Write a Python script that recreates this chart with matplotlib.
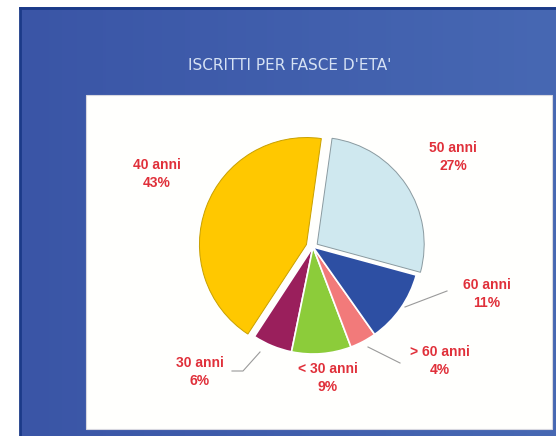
import numpy as np
import matplotlib.pyplot as plt
from matplotlib.patches import Rectangle
from matplotlib.colors import LinearSegmentedColormap

# data (counter-clockwise from the light blue slice)
labels = ['50 anni', '40 anni', '30 anni', '< 30 anni', '> 60 anni', '60 anni']
shares = [27, 43, 6, 9, 4, 11]
colors = ['#cfe8ef', '#ffc800', '#9a1f5c', '#8ccc3a', '#f27a7a', '#2d4fa3']

title = "ISCRITTI PER FASCE D'ETA'"

W, H = 556, 436
fig = plt.figure(figsize=(W / 100, H / 100), dpi=100)
ax = fig.add_axes([0, 0, 1, 1])
fig.patch.set_facecolor('white')

def py(y):
    # pixel row (top = 0) -> axis y
    return H - y

# blue slide background with a light horizontal gradient
grad = np.linspace(0, 1, 256).reshape(1, -1)
cmap = LinearSegmentedColormap.from_list('bg', ['#3a55a6', '#4768b3'])
ax.imshow(grad, cmap=cmap, extent=[20, 556, py(436), py(8)], aspect='auto', zorder=0)
ax.plot([20, 20], [py(436), py(8)], color='#1b3a88', lw=2, zorder=1)
ax.plot([20, 556], [py(8), py(8)], color='#1b3a88', lw=2, zorder=1)

# white plot area
ax.add_patch(Rectangle((86, py(429)), 466, 334, facecolor='#fffffd',
                       edgecolor='#d8d8e0', lw=0.8, zorder=1))

ax.text(290, py(65), title, color='#d6e2f4', fontsize=11, ha='center', va='center',
        family='DejaVu Sans', zorder=3)

# explode is in data units (pixels here)
wedges, _ = ax.pie(shares, colors=colors, explode=[5, 7, 0, 0, 0, 0], startangle=344.8,
                   counterclock=True, center=(313, py(247)), radius=107,
                   wedgeprops=dict(edgecolor='white', linewidth=1.2))
for w in wedges:
    w.set_zorder(2)
wedges[0].set_edgecolor('#8a9aa0')
wedges[0].set_linewidth(0.7)
wedges[1].set_edgecolor('#c8a000')
wedges[1].set_linewidth(0.7)

# label placement (pixel coords)
label_pos = [(453, 157), (157, 174), (200, 372), (328, 378), (440, 361), (487, 294)]
for lab, s, (x, y) in zip(labels, shares, label_pos):
    ax.text(x, py(y), f'{lab}\n{s}%', color='#e0303a', fontsize=10, fontweight='bold',
            ha='center', va='center', family='Liberation Sans', linespacing=1.4, zorder=3)

# leader lines
lc = dict(color='#9a9a9a', lw=0.8, zorder=3)
ax.plot([405, 447], [py(307), py(291)], **lc)
ax.plot([368, 400], [py(347), py(363)], **lc)
ax.plot([260, 243, 232], [py(352), py(371), py(371)], **lc)

ax.set_xlim(0, W)
ax.set_ylim(0, H)
ax.set_aspect('auto')
ax.axis('off')

fig.savefig('out.png', dpi=100)
